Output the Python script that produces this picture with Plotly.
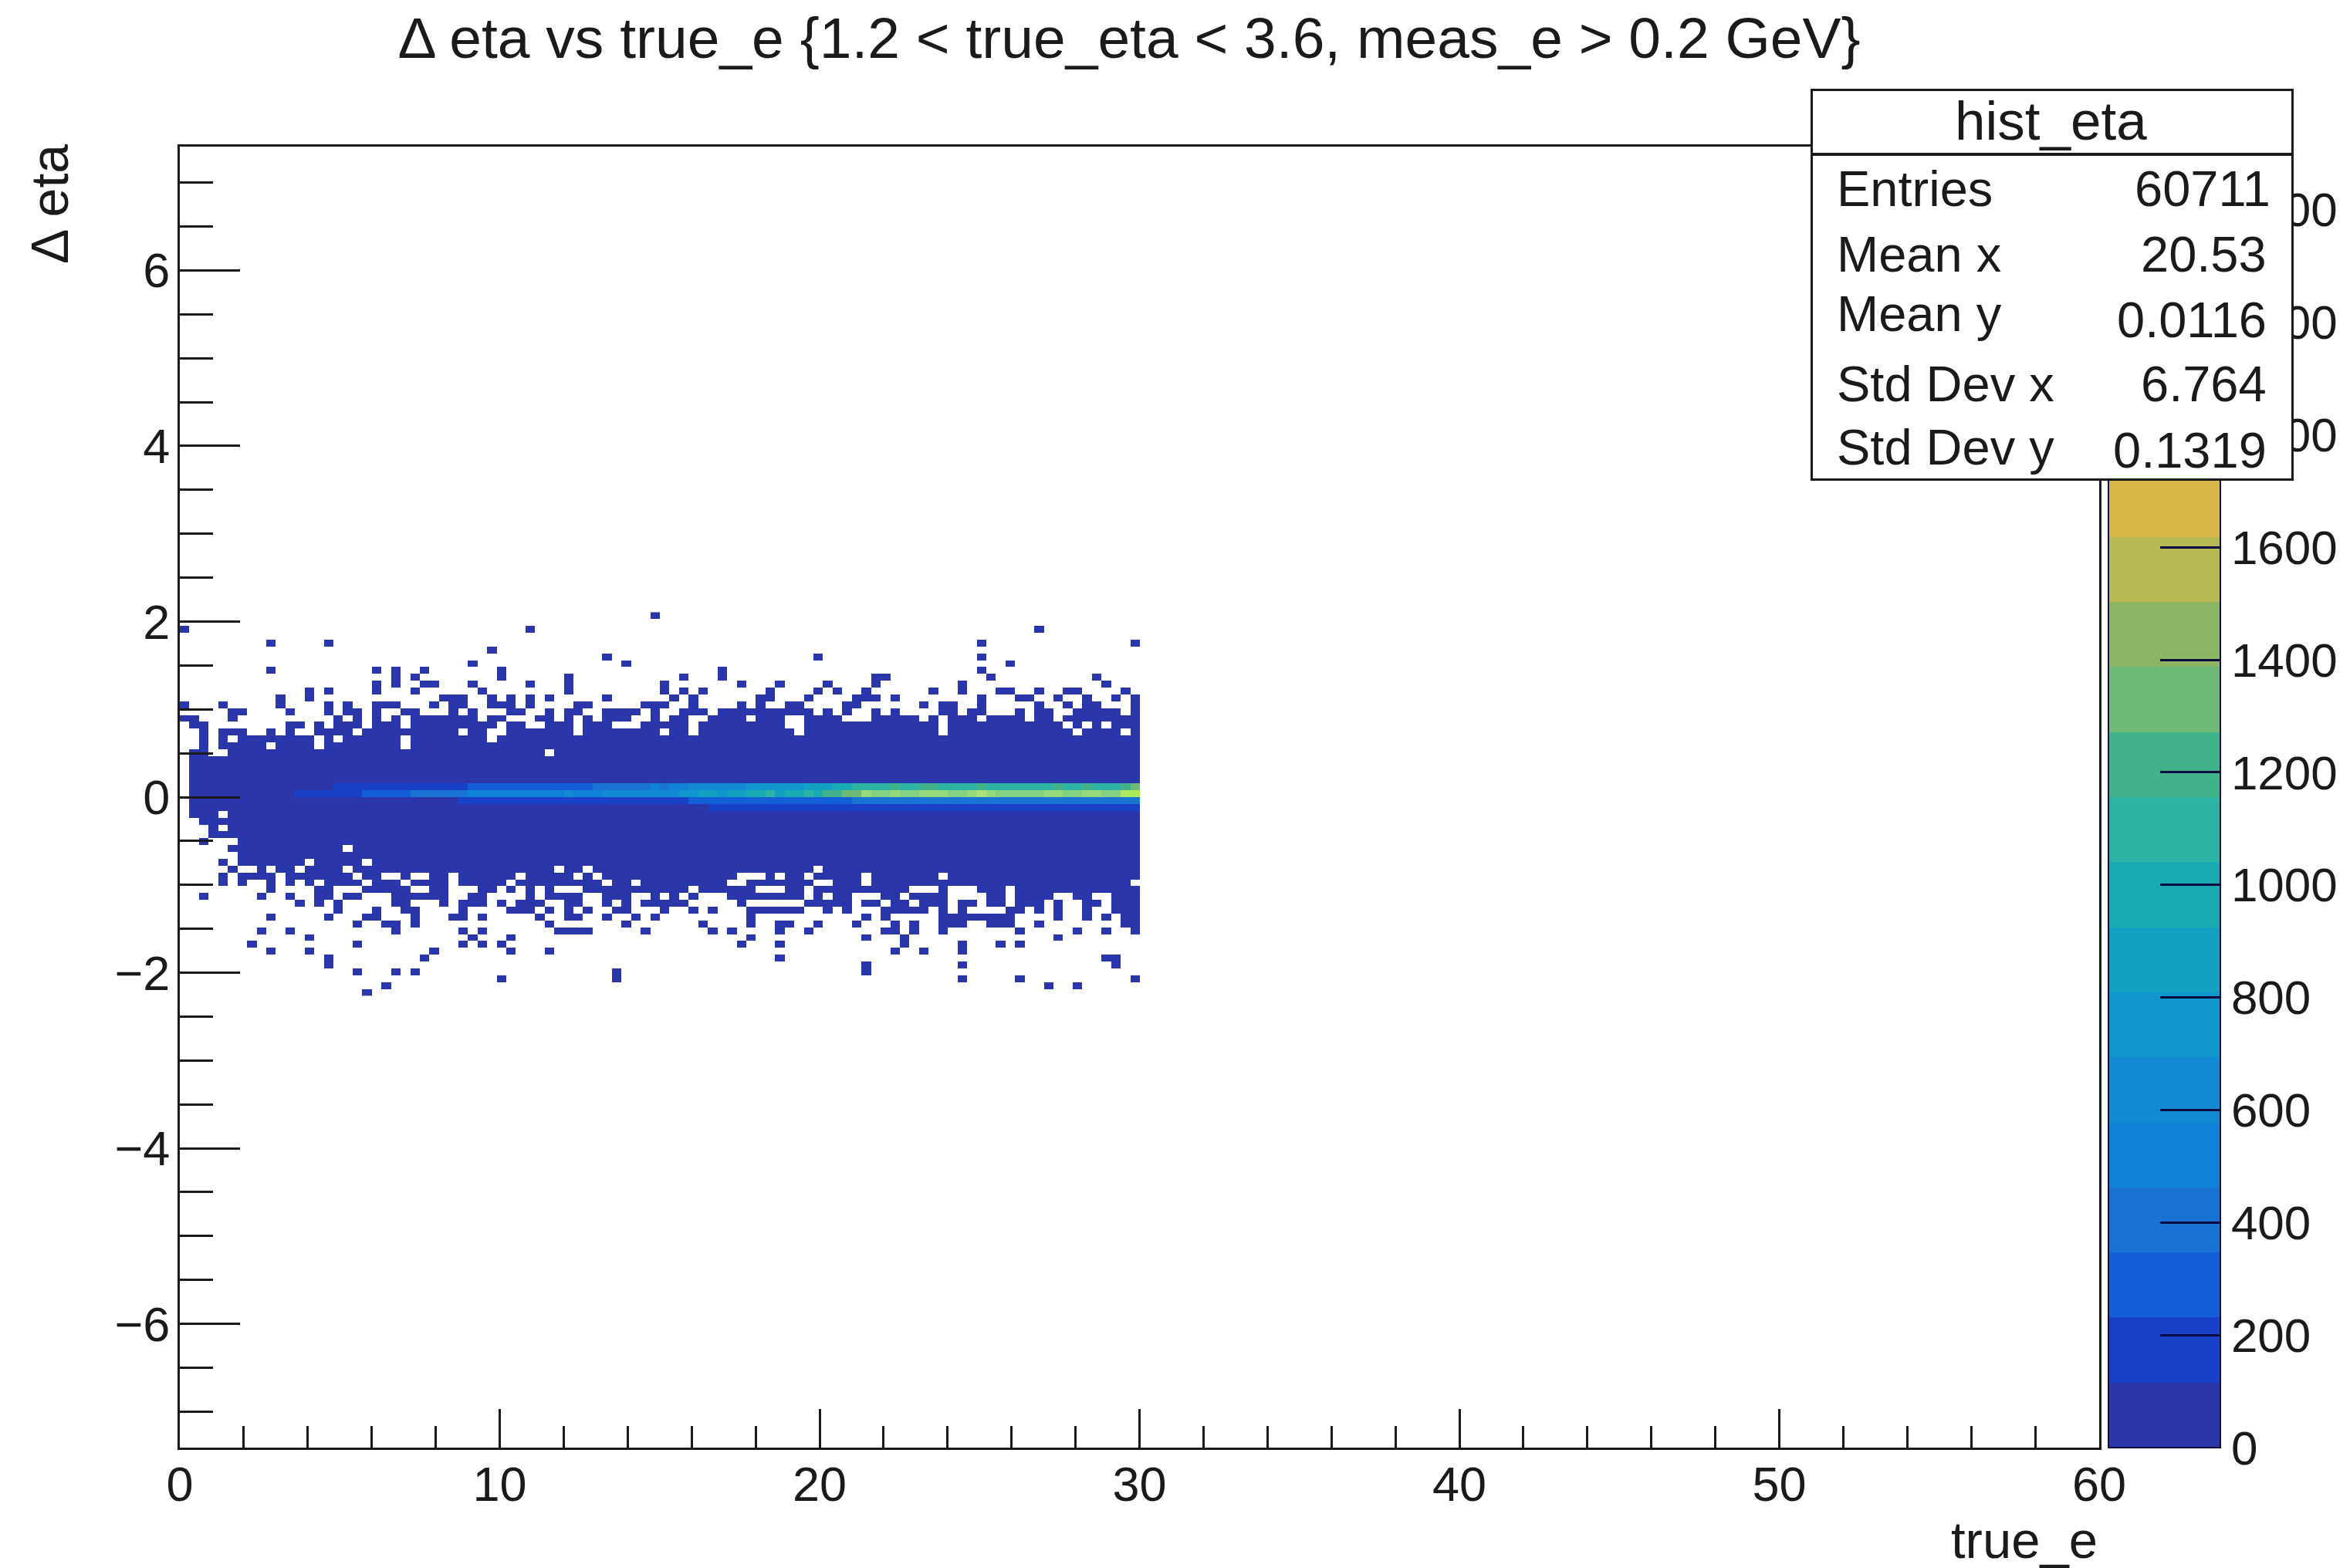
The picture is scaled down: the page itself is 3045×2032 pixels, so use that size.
import plotly.graph_objects as go

FONT = "Liberation Sans"
INK = "#1a1a1a"

# Histogram binning
x_bin_width = 0.3
x_bin_count = 100
y_bin_width = 0.078
y_first_row = -29
y_last_row = 26

# Occupied cells per y row: row index -> inclusive column spans (low-count cells)
occupied = {
    26: [(49, 49)],
    24: [(0, 0), (36, 36), (89, 89)],
    22: [(9, 9), (15, 15), (83, 83), (99, 99)],
    21: [(32, 32)],
    20: [(44, 44), (66, 66), (83, 83)],
    19: [(30, 30), (46, 46), (86, 86)],
    18: [(9, 9), (20, 20), (22, 22), (25, 25), (33, 33), (56, 56), (83, 83)],
    17: [(22, 22), (24, 24), (33, 33), (40, 40), (52, 52), (56, 56), (72, 73), (84, 84), (95, 95)],
    16: [(20, 20), (22, 22), (25, 26), (30, 30), (36, 36), (40, 40), (50, 50), (58, 58), (62, 62), (67, 67), (72, 72), (81, 81), (96, 96)],
    15: [(13, 13), (15, 15), (20, 20), (24, 24), (31, 31), (40, 40), (50, 50), (52, 52), (54, 54), (61, 61), (66, 66), (68, 68), (71, 71), (78, 78), (81, 81), (85, 86), (89, 89), (92, 93), (98, 98)],
    14: [(10, 10), (13, 13), (27, 29), (32, 32), (34, 34), (36, 36), (38, 38), (44, 44), (51, 51), (53, 53), (60, 61), (65, 65), (70, 72), (74, 74), (83, 83), (87, 88), (91, 91), (94, 94), (97, 97), (99, 99)],
    13: [(0, 0), (4, 4), (10, 10), (15, 15), (17, 17), (20, 22), (26, 26), (28, 29), (32, 34), (36, 36), (41, 42), (48, 50), (53, 53), (58, 58), (60, 60), (63, 64), (69, 70), (77, 77), (79, 80), (83, 83), (89, 89), (92, 92), (94, 95), (99, 99)],
    12: [(5, 6), (11, 11), (15, 15), (17, 18), (20, 20), (23, 24), (28, 28), (30, 30), (34, 35), (38, 38), (40, 41), (44, 47), (49, 49), (52, 54), (56, 65), (67, 67), (69, 69), (72, 72), (74, 74), (79, 80), (82, 83), (87, 87), (89, 90), (93, 97), (99, 99)],
    11: [(0, 1), (5, 5), (16, 16), (18, 18), (20, 20), (22, 22), (24, 30), (32, 33), (37, 38), (40, 40), (42, 42), (44, 46), (49, 49), (51, 52), (55, 58), (60, 62), (65, 68), (72, 76), (78, 78), (80, 82), (84, 87), (89, 90), (92, 99)],
    10: [(1, 2), (11, 12), (14, 14), (16, 18), (20, 22), (24, 32), (34, 35), (38, 40), (42, 44), (48, 52), (54, 62), (65, 78), (80, 91), (93, 93), (95, 95), (97, 99)],
    9: [(2, 2), (4, 6), (9, 9), (11, 11), (14, 17), (19, 28), (30, 31), (34, 40), (42, 49), (51, 52), (54, 63), (65, 78), (80, 92), (94, 97), (99, 99)],
    8: [(2, 2), (4, 4), (6, 13), (15, 15), (17, 22), (24, 31), (33, 99)],
    7: [(2, 2), (4, 8), (10, 13), (15, 22), (24, 99)],
    6: [(1, 2), (5, 37), (39, 99)],
    5: [(1, 99)], 4: [(1, 99)], 3: [(1, 99)], 2: [(1, 99)], 1: [(1, 99)], 0: [(1, 99)],
    -1: [(1, 99)], -2: [(1, 99)],
    -3: [(1, 3), (5, 99)],
    -4: [(2, 99)],
    -5: [(3, 3), (5, 99)],
    -6: [(3, 99)],
    -7: [(2, 2), (6, 99)],
    -8: [(5, 16), (18, 99)],
    -9: [(6, 99)],
    -10: [(4, 4), (6, 12), (14, 18), (20, 99)],
    -11: [(5, 5), (8, 8), (10, 11), (13, 16), (18, 38), (40, 41), (43, 65), (67, 99)],
    -12: [(4, 4), (6, 9), (11, 17), (19, 20), (23, 23), (26, 27), (29, 34), (36, 40), (42, 42), (44, 57), (61, 61), (63, 64), (66, 70), (72, 78), (80, 99)],
    -13: [(4, 4), (6, 6), (9, 9), (11, 11), (13, 13), (15, 18), (20, 22), (24, 27), (29, 33), (35, 43), (45, 46), (48, 56), (59, 65), (68, 70), (72, 98)],
    -14: [(9, 9), (14, 15), (19, 23), (26, 27), (31, 32), (34, 34), (36, 36), (38, 38), (42, 52), (54, 59), (63, 64), (66, 75), (79, 79), (83, 85), (87, 99)],
    -15: [(2, 2), (8, 8), (11, 11), (14, 15), (17, 18), (22, 27), (30, 31), (36, 36), (38, 41), (44, 46), (49, 49), (51, 51), (53, 53), (57, 64), (66, 66), (68, 69), (73, 74), (76, 79), (84, 85), (87, 90), (93, 94), (97, 99)],
    -16: [(12, 12), (14, 14), (16, 16), (22, 23), (27, 27), (29, 31), (33, 33), (35, 37), (40, 41), (44, 44), (46, 46), (48, 52), (58, 58), (65, 69), (71, 72), (74, 75), (77, 79), (81, 82), (84, 85), (87, 89), (91, 91), (94, 95), (97, 99)],
    -17: [(16, 16), (20, 20), (23, 24), (29, 29), (34, 36), (38, 38), (40, 40), (42, 42), (45, 46), (50, 50), (53, 53), (55, 55), (59, 64), (67, 67), (69, 69), (73, 77), (79, 79), (81, 81), (86, 87), (89, 89), (91, 91), (94, 94), (97, 99)],
    -18: [(9, 9), (15, 15), (19, 20), (24, 24), (28, 29), (31, 31), (37, 37), (40, 41), (44, 44), (47, 47), (49, 49), (59, 59), (71, 71), (73, 73), (79, 86), (91, 91), (94, 94), (96, 96), (98, 99)],
    -19: [(18, 18), (21, 22), (24, 24), (38, 38), (46, 46), (54, 54), (59, 59), (62, 63), (66, 66), (70, 70), (74, 74), (76, 76), (79, 81), (84, 86), (89, 89), (98, 99)],
    -20: [(8, 8), (11, 11), (22, 22), (29, 29), (31, 31), (39, 42), (48, 48), (55, 55), (57, 57), (62, 62), (65, 65), (73, 74), (76, 76), (79, 79), (87, 87), (93, 93), (96, 96), (99, 99)],
    -21: [(13, 13), (30, 30), (34, 34), (59, 59), (71, 71), (75, 75), (91, 91)],
    -22: [(7, 7), (18, 18), (29, 29), (31, 31), (33, 33), (58, 58), (62, 62), (75, 75), (81, 81), (85, 85), (87, 87)],
    -23: [(9, 9), (13, 13), (26, 26), (34, 34), (38, 38), (74, 74), (77, 77), (81, 81)],
    -24: [(15, 15), (25, 25), (62, 62), (96, 97)],
    -25: [(15, 15), (71, 71), (81, 81), (97, 97)],
    -26: [(18, 18), (22, 22), (24, 24), (45, 45), (71, 71)],
    -27: [(33, 33), (45, 45), (81, 81), (87, 87), (99, 99)],
    -28: [(21, 21), (90, 90), (93, 93)],
    -29: [(19, 19)],
}

low_count = 40

# Core rows: bin contents per column, columns 0-99, estimated from the colours
core_row_0 = [0, 30, 40, 45, 50, 55, 60, 60, 65, 70, 75, 80,
              130, 150, 170, 190, 200, 220, 230, 240,
              250, 280, 300, 340, 360, 380, 350,
              420, 440, 430, 480, 500, 510, 490,
              520, 500, 530, 560, 540, 570, 590, 520, 540, 560, 590, 580,
              620, 600, 640, 680, 620, 660, 700,
              780, 820, 850, 800, 900, 880, 930, 950,
              1100, 900, 950, 1000, 1050, 1020,
              1180, 1250, 1300, 1350,
              1900, 1750, 1800, 1850, 1780, 1820, 1900, 1950, 1850, 1800,
              1760, 1950, 2000, 1950, 1780, 1800, 1820, 1760,
              1800, 1850, 1900, 1820, 1800, 1950, 1850, 1800, 1820,
              2150, 2200]
core_row_p1 = [0, 20, 25, 30, 30, 35, 40, 40, 45, 50, 55, 60,
               70, 80, 90, 110, 120, 130, 130, 140,
               150, 160, 170, 180, 190, 190, 180,
               200, 210, 220, 240, 250, 240, 240,
               280, 280, 300, 320, 300, 320, 340, 330, 340, 360, 380, 380,
               420, 420, 450, 480, 460, 490, 520,
               580, 600, 640, 620, 680, 680, 720, 760,
               800, 740, 760, 800, 850, 820,
               900, 950, 1000, 1050,
               1150, 1100, 1120, 1180, 1120, 1150, 1220, 1180, 1150, 1120,
               1100, 1150, 1200, 1150, 1100, 1120, 1150, 1100,
               1120, 1150, 1200, 1150, 1120, 1180, 1150, 1120, 1150,
               1250, 1300]
core_row_m1 = [0, 15, 20, 20, 25, 25, 30, 30, 35, 35, 40, 40,
               45, 50, 55, 60, 60, 65, 70, 75,
               80, 85, 90, 95, 100, 100, 100,
               105, 110, 120, 125, 130, 130, 125,
               130, 130, 135, 140, 140, 145, 150, 145, 150, 155, 160, 160,
               170, 170, 180, 190, 180, 190, 200,
               240, 250, 260, 250, 270, 270, 280, 290,
               300, 280, 290, 300, 310, 300,
               320, 330, 340, 350,
               400, 380, 390, 400, 390, 400, 410, 400, 390, 380,
               380, 400, 410, 400, 380, 390, 400, 380,
               390, 400, 410, 400, 390, 410, 400, 390, 400,
               420, 430]
core_row_m2 = [0, 10, 12, 12, 15, 15, 18, 18, 20, 20, 22, 22,
               25, 28, 30, 32, 32, 35, 38, 40,
               42, 45, 48, 50, 52, 52, 52,
               55, 58, 60, 62, 65, 65, 62,
               65, 65, 68, 70, 70, 72, 75, 72, 75, 78, 80, 80,
               85, 85, 90, 95, 90, 95, 100,
               110, 115, 120, 120, 130, 130, 135, 140,
               150, 140, 145, 150, 155, 150,
               160, 165, 170, 175,
               200, 190, 195, 200, 195, 200, 205, 200, 195, 190,
               190, 200, 205, 200, 190, 195, 200, 190,
               195, 200, 205, 200, 195, 205, 200, 195, 200,
               210, 215]
core_rows = {0: core_row_0, 1: core_row_p1, -1: core_row_m1, -2: core_row_m2}

# Colour bands of the palette, lowest first
z_max = 2312
band_colors = [
    "rgb(43,54,170)", "rgb(25,65,200)", "rgb(18,95,215)", "rgb(25,115,210)",
    "rgb(15,130,215)", "rgb(18,138,212)", "rgb(15,150,205)", "rgb(20,160,195)",
    "rgb(25,170,180)", "rgb(45,180,165)", "rgb(65,178,138)", "rgb(110,185,118)",
    "rgb(140,182,100)", "rgb(185,185,85)", "rgb(215,182,72)",
    "rgb(130,210,130)", "rgb(150,218,125)", "rgb(170,225,125)",
    "rgb(175,230,100)", "rgb(170,235,85)",
]
color_ticks = [0, 200, 400, 600, 800, 1000, 1200, 1400, 1600, 1800, 2000, 2200]

# Texts
title_text = "Δ eta vs true_e {1.2 &lt; true_eta &lt; 3.6, meas_e &gt; 0.2 GeV}"
x_title = "true_e"
y_title = "Δ eta"
stats_name = "hist_eta"
stats_labels = ["Entries", "Mean x", "Mean y", "Std Dev x", "Std Dev y"]
stats_values = ["60711", "20.53", "0.0116", "6.764", "0.1319"]

# Layout geometry in pixels
W, H = 3045, 2032
L, R, T, B = 233, 2720, 190, 1876


def px(v):
    return (v - L) / (R - L)


def py(v):
    return (B - v) / (B - T)


rows = list(range(y_first_row, y_last_row + 1))
y_centers = [y_bin_width / 2 + r * y_bin_width for r in rows]
x_centers = [x_bin_width * (c + 0.5) for c in range(x_bin_count)]
z = []
for r in rows:
    line = [None] * x_bin_count
    for a, b in occupied.get(r, []):
        for c in range(a, b + 1):
            line[c] = low_count
    if r in core_rows:
        for c, v in enumerate(core_rows[r]):
            if v and line[c] is not None:
                line[c] = v
    z.append(line)

n = len(band_colors)
colorscale = []
for i, col in enumerate(band_colors):
    colorscale.append([i / n, col])
    colorscale.append([(i + 1) / n, col])

fig = go.Figure(go.Heatmap(
    x=x_centers, y=y_centers, z=z, zmin=0, zmax=z_max, colorscale=colorscale,
    hoverongaps=False,
    colorbar=dict(
        x=px(2732), xanchor="left", xpad=0, y=0, yanchor="bottom", ypad=0,
        len=1, lenmode="fraction", thickness=145, thicknessmode="pixels",
        outlinecolor="#101040", outlinewidth=2,
        ticks="inside", ticklen=79, tickwidth=3, tickcolor="#0a0a40",
        tickmode="array", tickvals=color_ticks,
        ticktext=[str(t) for t in color_ticks],
        tickfont=dict(family=FONT, size=62, color=INK),
    ),
))

axis_common = dict(
    showgrid=False, zeroline=False, showline=True, mirror=True,
    linecolor=INK, linewidth=3, ticks="inside", tickcolor=INK, tickwidth=3,
    tickfont=dict(family=FONT, size=63, color=INK),
)
fig.update_xaxes(
    range=[0, 60], tickmode="linear", tick0=0, dtick=10, ticklen=50,
    minor=dict(tick0=0, dtick=2, ticks="inside", ticklen=28, tickwidth=3, tickcolor=INK, showgrid=False),
    ticklabelstandoff=-10, **axis_common,
)
fig.update_yaxes(
    range=[-7.41, 7.41], tickmode="linear", tick0=0, dtick=2, ticklen=78,
    minor=dict(tick0=0, dtick=0.5, ticks="inside", ticklen=43, tickwidth=3, tickcolor=INK, showgrid=False),
    ticklabelstandoff=-3, **axis_common,
)

annotations = []


def text(s, x, y, anchor, size=63, **kw):
    annotations.append(dict(
        text=s, x=px(x), y=py(y), xref="paper", yref="paper", showarrow=False,
        xanchor=anchor, yanchor="middle", font=dict(family=FONT, size=size, color=INK), **kw))


text(x_title, 2720, 1995, "right", size=67)
text(y_title, 64, 265, "center", size=68, textangle=-90)

# Statistics box, drawn with bordered annotations so it sits above the colour bar
for top, bottom in [(115, 199), (199, 621)]:
    annotations.append(dict(
        text=" ", x=px(2346), y=py(top), xref="paper", yref="paper", showarrow=False,
        xanchor="left", yanchor="top", width=620, height=bottom - top - 4,
        bgcolor="white", bordercolor=INK, borderwidth=3, borderpad=0,
        font=dict(size=10)))
text(stats_name, 2657, 157, "center", size=71)
label_y = [244, 329, 407, 498, 579]
value_y = [244, 329, 414, 498, 583]
value_x = [2944, 2939, 2939, 2939, 2939]
for s, yy in zip(stats_labels, label_y):
    text(s, 2378, yy, "left", size=65)
for s, xx, yy in zip(stats_values, value_x, value_y):
    text(s, xx, yy, "right", size=65)

fig.update_layout(
    width=W, height=H, autosize=False,
    paper_bgcolor="white", plot_bgcolor="white",
    margin=dict(l=L, r=W - R, t=T, b=H - B, pad=0, autoexpand=False),
    font=dict(family=FONT, color=INK),
    title=dict(text=title_text, x=1463 / W, xanchor="center", xref="container",
               y=1 - 49 / H, yanchor="middle", yref="container",
               font=dict(family=FONT, size=75, color=INK)),
    annotations=annotations,
)

fig.write_html("out.html", config={"displayModeBar": False},
               post_script="document.body.style.margin='0';")
